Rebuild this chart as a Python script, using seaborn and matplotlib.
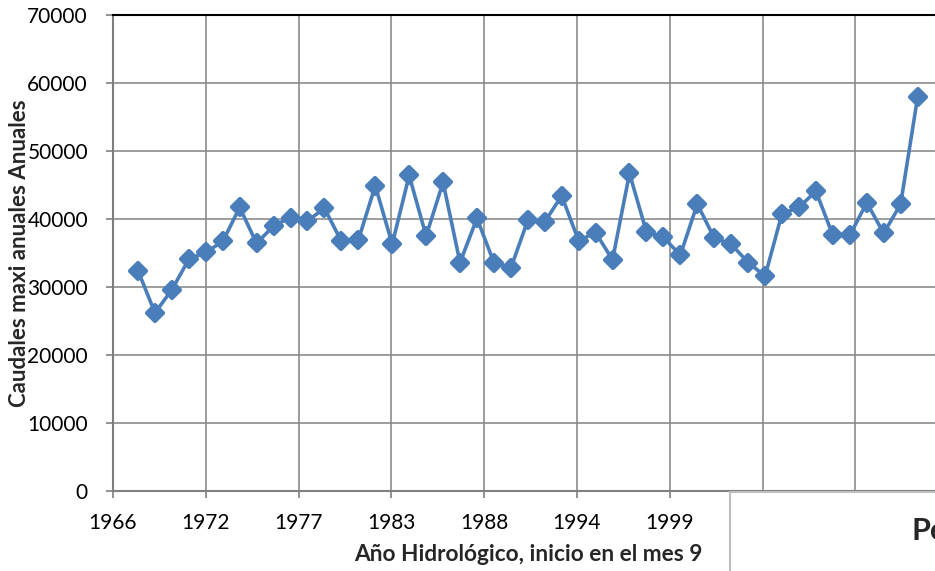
import matplotlib.pyplot as plt
import matplotlib.patches as mpatches
from matplotlib.markers import MarkerStyle
import pandas as pd
import seaborn as sns

# hydrological years and annual maximum flows
years = list(range(1967, 2014))
caudales = [
    32400, 26200, 29600, 34100, 35100, 36700, 41700, 36400, 39000, 40200,
    39700, 41600, 36700, 36900, 44900, 36300, 46400, 37500, 45400, 33600,
    40100, 33600, 32800, 39800, 39600, 43400, 36800, 38000, 34000, 46700,
    38100, 37300, 34700, 42200, 37200, 36300, 33600, 31600, 40800, 41700,
    44100, 37600, 37600, 42400, 37900, 42200, 57900,
]
tick_labels = ["1966", "1972", "1977", "1983", "1988", "1994", "1999", "2005", "2010"]
y_ticks = [0, 10000, 20000, 30000, 40000, 50000, 60000, 70000]

df = pd.DataFrame({"anio": years, "caudal": caudales})

sns.set_style("white")
plt.rcParams["font.family"] = ["Lato", "DejaVu Sans"]

fig = plt.figure(figsize=(9.35, 5.71), dpi=100)
ax = fig.add_axes([113 / 935, 80 / 571, 830 / 935, 476 / 571])

blue = "#4A7EBB"
grid_col = "#8C8C8C"

# excel-like date axis: major unit of 2000 days
step = 2000 / 365.25
x_min = years[0] - 539 / 365.25
x_ticks = [x_min + i * step for i in range(len(tick_labels))]

ax.set_xlim(x_min, x_min + 830 / 92.8 * step)
ax.set_ylim(0, 70000)
ax.set_xticks(x_ticks)
ax.set_xticklabels(tick_labels)
ax.set_yticks(y_ticks)
ax.set_yticklabels([str(v) for v in y_ticks])

ax.grid(True, color=grid_col, linewidth=1.2)
ax.set_axisbelow(True)

sns.lineplot(
    data=df, x="anio", y="caudal", ax=ax, color=blue, linewidth=2.6,
    marker=MarkerStyle("D", joinstyle="round"), markersize=8.5,
    markeredgewidth=3, markeredgecolor=blue, markerfacecolor=blue,
)

for side in ["left", "bottom"]:
    ax.spines[side].set_color("#7F7F7F")
    ax.spines[side].set_linewidth(1.5)
ax.spines["top"].set_color("black")
ax.spines["top"].set_linewidth(1.5)
ax.spines["right"].set_visible(False)

ax.tick_params(axis="both", which="major", length=5, width=1.2, color="#7F7F7F",
               direction="out", labelsize=15, labelcolor="black")
ax.tick_params(axis="x", pad=11)
ax.tick_params(axis="y", pad=13)
ax.tick_params(bottom=True, left=True)

ax.set_xlabel("Año Hidrológico, inicio en el mes 9", fontsize=16.3, fontweight="bold")
ax.set_ylabel("Caudales maxi anuales Anuales", fontsize=16, fontweight="bold")
ax.xaxis.set_label_coords(0.5, (491 - 544) / 476)
ax.yaxis.set_label_coords((30 - 113) / 830, 0.5)

# overlapping second chart box at the bottom right
box = mpatches.Rectangle((730 / 935, -0.05), 0.4, (571 - 492) / 571 + 0.05,
                         transform=fig.transFigure, facecolor="white",
                         edgecolor="#BFBFBF", linewidth=1.5, zorder=5)
fig.add_artist(box)
fig.text(912 / 935, (571 - 540) / 571, "Pe", fontsize=22, fontweight="bold",
         ha="left", va="baseline", zorder=6)
fig.text(734 / 935, -1 / 571, "70000", fontsize=13, ha="left", va="top", zorder=6)

fig.savefig("out.png", dpi=100)
plt.close(fig)
